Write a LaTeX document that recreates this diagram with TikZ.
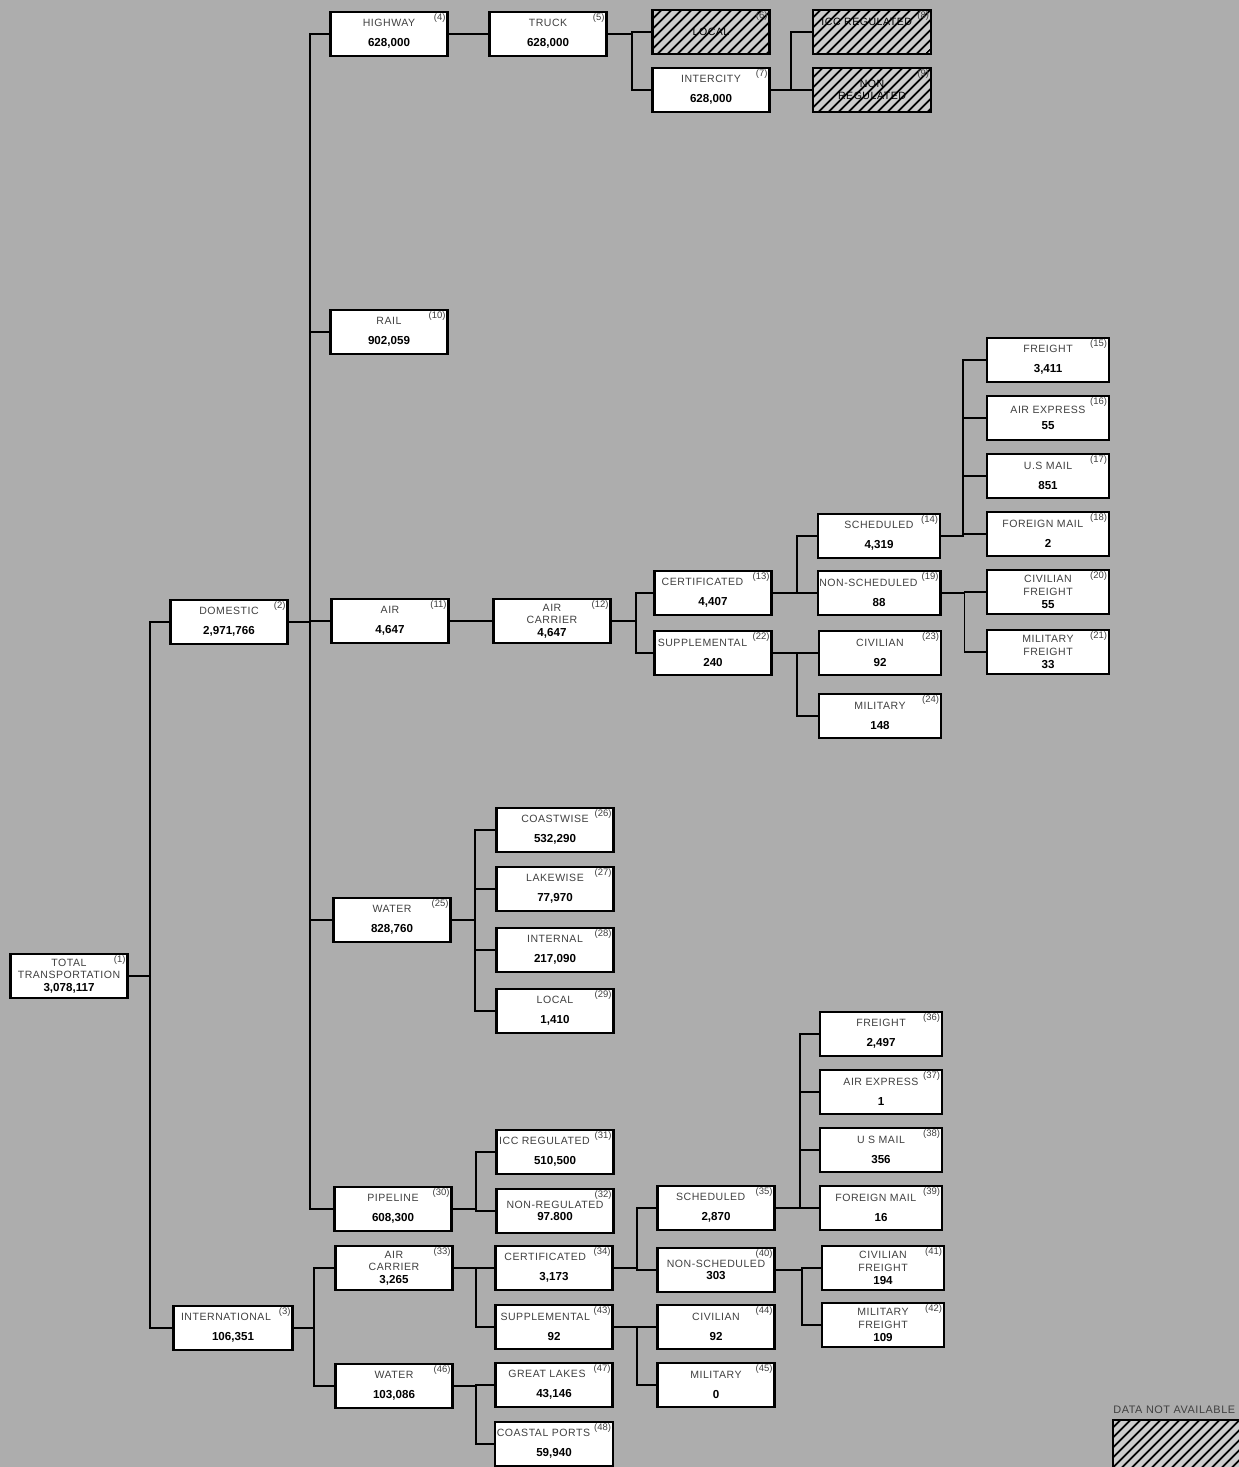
\documentclass[tikz,border=0pt]{standalone}
\usepackage{fontspec}
\setmainfont{Liberation Sans}
\newfontfamily\lblfont[LetterSpace=5]{Liberation Sans}
\usetikzlibrary{patterns.meta}
\newcommand{\amount}[1]{\textcolor{black}{\normalfont\bfseries\fontsize{6.6}{7.2}\selectfont #1}}

\begin{document}
\begin{tikzpicture}[x=0.02cm, y=-0.02cm,
  box/.style={draw, line width=1.2pt, fill=white, minimum width=2.34cm, minimum height=0.88cm, inner sep=1pt, align=center, text=black!75, font=\lblfont\fontsize{6}{7.2}\selectfont},
  wide/.style={box, minimum width=2.44cm},
  nodata/.style={box, fill=black!20, text=black, postaction={pattern={Lines[angle=45,distance=4pt,line width=1.1pt]}}},
  tag/.style={anchor=north east, inner sep=1.5pt, text=black!75, font=\fontsize{5.4}{5.4}\selectfont},
  link/.style={line width=1.1pt}]

% Tlo
\useasboundingbox (0,0) rectangle (1239,1467);
\fill[black!32] (0,0) rectangle (1239,1467);

% Poziom 1-2
\node[box, label={[tag]north east:(1)}] (total) at (69,976) {TOTAL\\TRANSPORTATION\\\amount{3,078,117}};
\node[box, label={[tag]north east:(2)}] (domestic) at (229,622) {DOMESTIC\\[4pt]\amount{2,971,766}};
\node[box, minimum width=2.38cm, label={[tag]north east:(3)}] (international) at (233,1328) {INTERNATIONAL\hspace*{8pt}\\[4pt]\amount{106,351}};

% Poziom 3
\node[box, label={[tag]north east:(4)}] (highway) at (389,34) {HIGHWAY\\[4pt]\amount{628,000}};
\node[box, label={[tag]north east:(10)}] (rail) at (389,332) {RAIL\\[4pt]\amount{902,059}};
\node[box, label={[tag]north east:(11)}] (air) at (390,621) {AIR\\[4pt]\amount{4,647}};
\node[box, label={[tag]north east:(25)}] (water) at (392,920) {WATER\\[4pt]\amount{828,760}};
\node[box, label={[tag]north east:(30)}] (pipeline) at (393,1209) {PIPELINE\\[4pt]\amount{608,300}};
\node[box, label={[tag]north east:(33)}] (icarrier) at (394,1268) {AIR\\CARRIER\\\amount{3,265}};
\node[box, label={[tag]north east:(46)}] (iwater) at (394,1386) {WATER\\[4pt]\amount{103,086}};

% Poziom 4
\node[box, label={[tag]north east:(5)}] (truck) at (548,34) {TRUCK\\[4pt]\amount{628,000}};
\node[box, label={[tag]north east:(12)}] (carrier) at (552,621) {AIR\\CARRIER\\\amount{4,647}};
\node[box, label={[tag]north east:(26)}] (coastwise) at (555,830) {COASTWISE\\[4pt]\amount{532,290}};
\node[box, label={[tag]north east:(27)}] (lakewise) at (555,889) {LAKEWISE\\[4pt]\amount{77,970}};
\node[box, label={[tag]north east:(28)}] (internal) at (555,950) {INTERNAL\\[4pt]\amount{217,090}};
\node[box, label={[tag]north east:(29)}] (wlocal) at (555,1011) {LOCAL\\[4pt]\amount{1,410}};
\node[box, label={[tag]north east:(31)}] (iccreg) at (555,1152) {ICC REGULATED\hspace*{12pt}\\[4pt]\amount{510,500}};
\node[box, label={[tag]north east:(32)}] (nonreg) at (555,1211) {NON-REGULATED\\\amount{97.800}};
\node[box, label={[tag]north east:(34)}] (icert) at (554,1268) {CERTIFICATED\hspace*{10pt}\\[4pt]\amount{3,173}};
\node[box, label={[tag]north east:(43)}] (isupp) at (554,1327) {SUPPLEMENTAL\hspace*{10pt}\\[4pt]\amount{92}};
\node[box, label={[tag]north east:(47)}] (lakes) at (554,1385) {GREAT LAKES\hspace*{8pt}\\[4pt]\amount{43,146}};
\node[box, label={[tag]north east:(48)}] (coastal) at (554,1444) {COASTAL PORTS\hspace*{12pt}\\[4pt]\amount{59,940}};

% Poziom 5
\node[nodata, label={[tag]north east:(6)}] (hlocal) at (711,32) {LOCAL};
\node[box, label={[tag]north east:(7)}] (intercity) at (711,90) {INTERCITY\\[4pt]\amount{628,000}};
\node[box, label={[tag]north east:(13)}] (cert) at (713,593) {CERTIFICATED\hspace*{12pt}\\[4pt]\amount{4,407}};
\node[box, label={[tag]north east:(22)}] (supp) at (713,653) {SUPPLEMENTAL\hspace*{12pt}\\[4pt]\amount{240}};
\node[box, label={[tag]north east:(35)}] (isched) at (716,1208) {SCHEDULED\hspace*{6pt}\\[4pt]\amount{2,870}};
\node[box, label={[tag]north east:(40)}] (inonsched) at (716,1270) {NON-SCHEDULED\\\amount{303}};
\node[box, label={[tag]north east:(44)}] (icivil) at (716,1327) {CIVILIAN\\[4pt]\amount{92}};
\node[box, label={[tag]north east:(45)}] (imil) at (716,1385) {MILITARY\\[4pt]\amount{0}};

% Poziom 6
\node[nodata, minimum width=2.36cm, text depth=12pt, label={[tag]north east:(8)}] (iccna) at (872,32) {ICC REGULATED\hspace*{6pt}};
\node[nodata, minimum width=2.36cm, label={[tag]north east:(9)}] (nonna) at (872,90) {NON\\REGULATED};
\node[wide, label={[tag]north east:(14)}] (sched) at (879,536) {SCHEDULED\\[4pt]\amount{4,319}};
\node[wide, label={[tag]north east:(19)}] (nonsched) at (879,593) {NON-SCHEDULED\hspace*{12pt}\\[4pt]\amount{88}};
\node[wide, label={[tag]north east:(23)}] (civil) at (880,653) {CIVILIAN\\[4pt]\amount{92}};
\node[wide, label={[tag]north east:(24)}] (mil) at (880,716) {MILITARY\\[4pt]\amount{148}};
\node[wide, label={[tag]north east:(36)}] (ifreight) at (881,1034) {FREIGHT\\[4pt]\amount{2,497}};
\node[wide, label={[tag]north east:(37)}] (iexpress) at (881,1092) {AIR EXPRESS\\[4pt]\amount{1}};
\node[wide, label={[tag]north east:(38)}] (imail) at (881,1150) {U S MAIL\\[4pt]\amount{356}};
\node[wide, label={[tag]north east:(39)}] (iforeign) at (881,1208) {FOREIGN MAIL\hspace*{6pt}\\[4pt]\amount{16}};
\node[wide, label={[tag]north east:(41)}] (icivfr) at (883,1268) {CIVILIAN\\FREIGHT\\\amount{194}};
\node[wide, label={[tag]north east:(42)}] (imilfr) at (883,1325) {MILITARY\\FREIGHT\\\amount{109}};

% Poziom 7
\node[wide, label={[tag]north east:(15)}] (freight) at (1048,360) {FREIGHT\\[4pt]\amount{3,411}};
\node[wide, label={[tag]north east:(16)}] (express) at (1048,418) {AIR EXPRESS\\[2pt]\amount{55}};
\node[wide, label={[tag]north east:(17)}] (mail) at (1048,476) {U.S MAIL\\[4pt]\amount{851}};
\node[wide, label={[tag]north east:(18)}] (foreign) at (1048,534) {FOREIGN MAIL\hspace*{6pt}\\[4pt]\amount{2}};
\node[wide, label={[tag]north east:(20)}] (civfr) at (1048,592) {CIVILIAN\\FREIGHT\\\amount{55}};
\node[wide, label={[tag]north east:(21)}] (milfr) at (1048,652) {MILITARY\\FREIGHT\\\amount{33}};

% Polaczenia
\foreach \c in {domestic,international} \draw[link] (total.east) -- ++(21,0) |- (\c.west);
\foreach \c in {highway,rail,air,water,pipeline} \draw[link] (domestic.east) -- ++(21,0) |- (\c.west);
\foreach \c in {icarrier,iwater} \draw[link] (international.east) -- ++(20,0) |- (\c.west);
\draw[link] (highway.east) -- (truck.west);
\foreach \c in {hlocal,intercity} \draw[link] (truck.east) -- ++(24,0) |- (\c.west);
\foreach \c in {iccna,nonna} \draw[link] (intercity.east) -- ++(20,0) |- (\c.west);
\draw[link] (air.east) -- (carrier.west);
\foreach \c in {cert,supp} \draw[link] (carrier.east) -- ++(24,0) |- (\c.west);
\foreach \c in {sched,nonsched} \draw[link] (cert.east) -- ++(24,0) |- (\c.west);
\foreach \c in {civil,mil} \draw[link] (supp.east) -- ++(24,0) |- (\c.west);
\foreach \c in {freight,express,mail,foreign} \draw[link] (sched.east) -- ++(22,0) |- (\c.west);
\foreach \c in {civfr,milfr} \draw[link] (nonsched.east) -- ++(23,0) |- (\c.west);
\foreach \c in {coastwise,lakewise,internal,wlocal} \draw[link] (water.east) -- ++(23,0) |- (\c.west);
\foreach \c in {iccreg,nonreg} \draw[link] (pipeline.east) -- ++(23,0) |- (\c.west);
\foreach \c in {icert,isupp} \draw[link] (icarrier.east) -- ++(22,0) |- (\c.west);
\foreach \c in {lakes,coastal} \draw[link] (iwater.east) -- ++(22,0) |- (\c.west);
\foreach \c in {isched,inonsched} \draw[link] (icert.east) -- ++(23,0) |- (\c.west);
\foreach \c in {icivil,imil} \draw[link] (isupp.east) -- ++(23,0) |- (\c.west);
\foreach \c in {ifreight,iexpress,imail,iforeign} \draw[link] (isched.east) -- ++(24,0) |- (\c.west);
\foreach \c in {icivfr,imilfr} \draw[link] (inonsched.east) -- ++(26,0) |- (\c.west);

% Legenda
\node[anchor=south west, inner sep=0pt, text=black!75, font=\lblfont\fontsize{6.2}{6.6}\selectfont] (legend) at (1113,1414) {DATA NOT AVAILABLE};
\draw[line width=1.2pt, fill=black!20, postaction={pattern={Lines[angle=45,distance=4pt,line width=1.1pt]}}] (1113,1420) rectangle (1250,1475);
\end{tikzpicture}
\end{document}
